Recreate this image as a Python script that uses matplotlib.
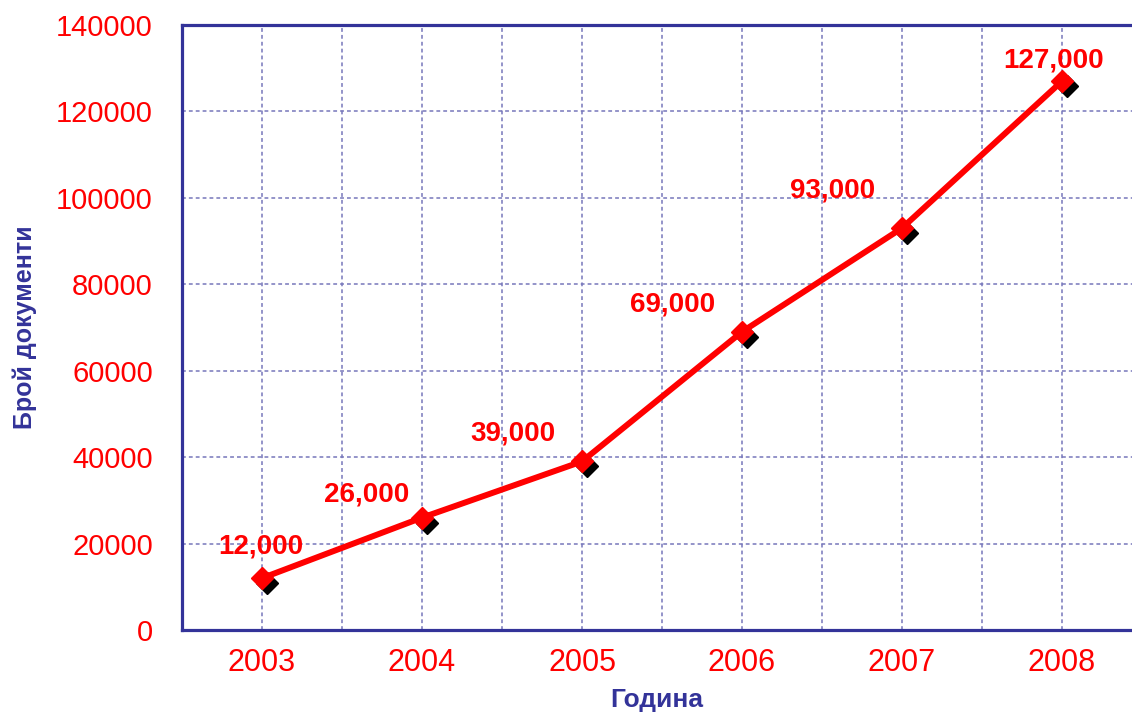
import matplotlib
matplotlib.use("Agg")
import matplotlib.pyplot as plt
import matplotlib.transforms as mtransforms
from matplotlib.ticker import MultipleLocator

years = ["2003", "2004", "2005", "2006", "2007", "2008"]
docs = [12000, 26000, 39000, 69000, 93000, 127000]
labels = ["12,000", "26,000", "39,000", "69,000", "93,000", "127,000"]
# label offsets in points (dx, dy) relative to each point
label_offsets = [(-1, 23), (-40, 17), (-50, 20), (-50, 20), (-50, 27), (-6, 15)]

red = "#ff0000"
navy = "#333399"
grid_col = "#7777bb"

plt.rcParams["font.family"] = ["Liberation Sans", "DejaVu Sans"]

fig = plt.figure(figsize=(11.32, 7.13), dpi=100)
ax = fig.add_axes([182 / 1132, 83 / 713, 1 - 182 / 1132, 605 / 713])

x = list(range(len(years)))

# black shadow of the markers
shadow = mtransforms.offset_copy(ax.transData, fig=fig, x=3.5, y=-3.5, units="points")
ax.plot(x, docs, linestyle="none", marker="D", markersize=11, color="black",
        transform=shadow, zorder=3)
ax.plot(x, docs, color=red, linewidth=4.3, marker="D", markersize=11,
        markeredgecolor=red, zorder=4)

for xi, yi, lab, (dx, dy) in zip(x, docs, labels, label_offsets):
    ax.annotate(lab, (xi, yi), xytext=(dx, dy), textcoords="offset points",
                ha="center", va="center", color=red, fontsize=20,
                fontweight="bold", zorder=5)

ax.set_xlim(-0.5, (1132 - 262) / 160)
ax.set_ylim(0, 140000)
ax.set_xticks(x)
ax.set_xticklabels(years)
ax.xaxis.set_minor_locator(MultipleLocator(1, offset=0.5))
ax.yaxis.set_major_locator(MultipleLocator(20000))

ax.grid(True, which="both", axis="x", color=grid_col, linestyle=(0, (2.5, 2)), linewidth=1.1)
ax.grid(True, which="major", axis="y", color=grid_col, linestyle=(0, (2.5, 2)), linewidth=1.1)
ax.set_axisbelow(True)

ax.tick_params(axis="both", which="both", length=0, colors=red)
ax.tick_params(axis="x", labelsize=22, pad=13)
ax.tick_params(axis="y", labelsize=21, pad=21)

for side in ["left", "bottom", "top"]:
    ax.spines[side].set_color(navy)
    ax.spines[side].set_linewidth(2.3)
ax.spines["right"].set_visible(False)

ax.set_ylabel("Брой документи", color=navy, fontsize=18, fontweight="bold", labelpad=14)
ax.set_xlabel("Година", color=navy, fontsize=19, fontweight="bold", labelpad=7)

fig.savefig("out.png", dpi=100)
